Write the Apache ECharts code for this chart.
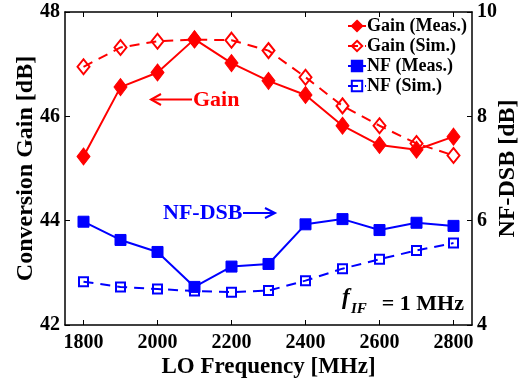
<!DOCTYPE html>
<html>
<head>
<meta charset="utf-8">
<script src="https://cdn.jsdelivr.net/npm/echarts@6/dist/echarts.min.js"></script>
<style>
html,body{margin:0;padding:0;background:#fff;}
#chart{width:520px;height:378px;}
</style>
</head>
<body>
<div id="chart"></div>
<script>
var freq = [1800, 1900, 2000, 2100, 2200, 2300, 2400, 2500, 2600, 2700, 2800];
var gainMeas = [45.23, 46.56, 46.84, 47.48, 47.02, 46.68, 46.41, 45.82, 45.45, 45.36, 45.61];
var gainSim  = [46.95, 47.32, 47.44, 47.47, 47.46, 47.26, 46.75, 46.20, 45.82, 45.48, 45.25];
var nfMeas   = [5.98, 5.63, 5.40, 4.73, 5.12, 5.17, 5.93, 6.03, 5.82, 5.96, 5.90];
var nfSim    = [4.83, 4.73, 4.69, 4.65, 4.63, 4.66, 4.85, 5.08, 5.26, 5.43, 5.57];
var xTicks = [1800, 2000, 2200, 2400, 2600, 2800];

function pairs(v){ return freq.map(function(f,i){ return [f, v[i]]; }); }

var FONT = "'Liberation Serif','Times New Roman',serif";
var RED = '#ff0000', BLUE = '#0000ff';

var chart = echarts.init(document.getElementById('chart'), null, {renderer:'canvas'});
var option = {
  animation: false,
  backgroundColor: '#fff',
  textStyle: {fontFamily: FONT},
  grid: {left: 65, right: 48, top: 12, bottom: 53, show: false, containLabel: false, outerBoundsMode: 'none'},
  legend: {
    orient: 'vertical', right: 53, top: 17,
    itemWidth: 18, itemHeight: 13, itemGap: 2,
    data: ['Gain (Meas.)', 'Gain (Sim.)', 'NF (Meas.)', 'NF (Sim.)'],
    textStyle: {fontFamily: FONT, fontWeight: 'bold', fontSize: 18, color: '#000', padding: [0,0,0,-4], lineHeight: 18},
    padding: 0
  },
  xAxis: [{
    type: 'value', min: 1750, max: 2850, position: 'bottom',
    name: 'LO Frequency [MHz]', nameLocation: 'middle', nameGap: 31, nameMoveOverlap: false,
    nameTextStyle: {fontFamily: FONT, fontWeight: 'bold', fontSize: 23, color: '#000'},
    axisLine: {show: true, lineStyle: {color: '#000', width: 1.5}},
    axisTick: {show: true, inside: true, length: 5, customValues: xTicks, lineStyle: {color: '#000', width: 1}},
    axisLabel: {customValues: xTicks, formatter: function(v){ return String(v); },
      fontFamily: FONT, fontWeight: 'bold', fontSize: 20, color: '#000', margin: 8},
    splitLine: {show: false}
  },{
    type: 'value', min: 1750, max: 2850, position: 'top',
    axisLine: {show: true, lineStyle: {color: '#000', width: 1.5}},
    axisTick: {show: true, inside: true, length: 5, customValues: xTicks, lineStyle: {color: '#000', width: 1}},
    axisLabel: {show: false},
    splitLine: {show: false}
  }],
  yAxis: [{
    type: 'value', min: 42, max: 48, interval: 2, position: 'left',
    name: 'Conversion Gain [dB]', nameLocation: 'middle', nameGap: 27, nameRotate: 90, nameMoveOverlap: false,
    nameTextStyle: {fontFamily: FONT, fontWeight: 'bold', fontSize: 24, color: '#000'},
    axisLine: {show: true, lineStyle: {color: '#000', width: 1.5}},
    axisTick: {show: true, inside: true, length: 5, lineStyle: {color: '#000', width: 1}},
    axisLabel: {fontFamily: FONT, fontWeight: 'bold', fontSize: 20, color: '#000', margin: 5},
    splitLine: {show: false}
  },{
    type: 'value', min: 4, max: 10, interval: 2, position: 'right',
    name: 'NF-DSB [dB]', nameLocation: 'middle', nameGap: 24, nameRotate: 90, nameMoveOverlap: false,
    nameTextStyle: {fontFamily: FONT, fontWeight: 'bold', fontSize: 24, color: '#000'},
    axisLine: {show: true, lineStyle: {color: '#000', width: 1.5}},
    axisTick: {show: true, inside: true, length: 5, lineStyle: {color: '#000', width: 1}},
    axisLabel: {fontFamily: FONT, fontWeight: 'bold', fontSize: 20, color: '#000', margin: 5},
    splitLine: {show: false}
  }],
  series: [
    {name: 'Gain (Sim.)', type: 'line', yAxisIndex: 0, data: pairs(gainSim), z: 2,
     symbol: 'diamond', symbolSize: [12, 15],
     lineStyle: {color: RED, width: 2, type: [10, 7]},
     itemStyle: {color: 'rgba(255,255,255,0)', borderColor: RED, borderWidth: 2}},
    {name: 'Gain (Meas.)', type: 'line', yAxisIndex: 0, data: pairs(gainMeas), z: 3,
     symbol: 'diamond', symbolSize: [13, 17],
     lineStyle: {color: RED, width: 2},
     itemStyle: {color: RED, borderColor: RED, borderWidth: 1}},
    {name: 'NF (Sim.)', type: 'line', yAxisIndex: 1, data: pairs(nfSim), z: 2,
     symbol: 'rect', symbolSize: 9,
     lineStyle: {color: BLUE, width: 2, type: [10, 7]},
     itemStyle: {color: 'rgba(255,255,255,0)', borderColor: BLUE, borderWidth: 2}},
    {name: 'NF (Meas.)', type: 'line', yAxisIndex: 1, data: pairs(nfMeas), z: 3,
     symbol: 'rect', symbolSize: 11,
     lineStyle: {color: BLUE, width: 2},
     itemStyle: {color: BLUE, borderColor: BLUE, borderWidth: 1}}
  ],
  graphic: [
    // Gain arrow
    {type: 'line', shape: {x1: 151, y1: 99.5, x2: 192, y2: 99.5}, style: {stroke: RED, lineWidth: 2}},
    {type: 'polyline', shape: {points: [[161, 94], [151, 99.5], [161, 105]]}, style: {stroke: RED, lineWidth: 2, fill: null}},
    {type: 'text', x: 193, y: 100, style: {text: 'Gain', fontFamily: FONT, fontWeight: 'bold', fontSize: 22, fill: RED, verticalAlign: 'middle'}},
    // NF-DSB arrow
    {type: 'text', x: 163, y: 213, style: {text: 'NF-DSB', fontFamily: FONT, fontWeight: 'bold', fontSize: 22, fill: BLUE, verticalAlign: 'middle'}},
    {type: 'line', shape: {x1: 243, y1: 213, x2: 274, y2: 213}, style: {stroke: BLUE, lineWidth: 2}},
    {type: 'polyline', shape: {points: [[265, 208], [275, 213], [265, 218]]}, style: {stroke: BLUE, lineWidth: 2, fill: null}},
    // f_IF annotation
    {type: 'text', x: 342, y: 298, style: {text: 'f', fontFamily: FONT, fontStyle: 'italic', fontWeight: 'bold', fontSize: 23, fill: '#000', verticalAlign: 'middle'}},
    {type: 'text', x: 351, y: 309.5, style: {text: 'IF', fontFamily: FONT, fontStyle: 'italic', fontWeight: 'bold', fontSize: 15, fill: '#000', verticalAlign: 'middle'}},
    {type: 'text', x: 464, y: 304, style: {text: '= 1 MHz', fontFamily: FONT, fontWeight: 'bold', fontSize: 22, fill: '#000', align: 'right', verticalAlign: 'middle'}}
  ]
};
chart.setOption(option);
</script>
</body>
</html>
